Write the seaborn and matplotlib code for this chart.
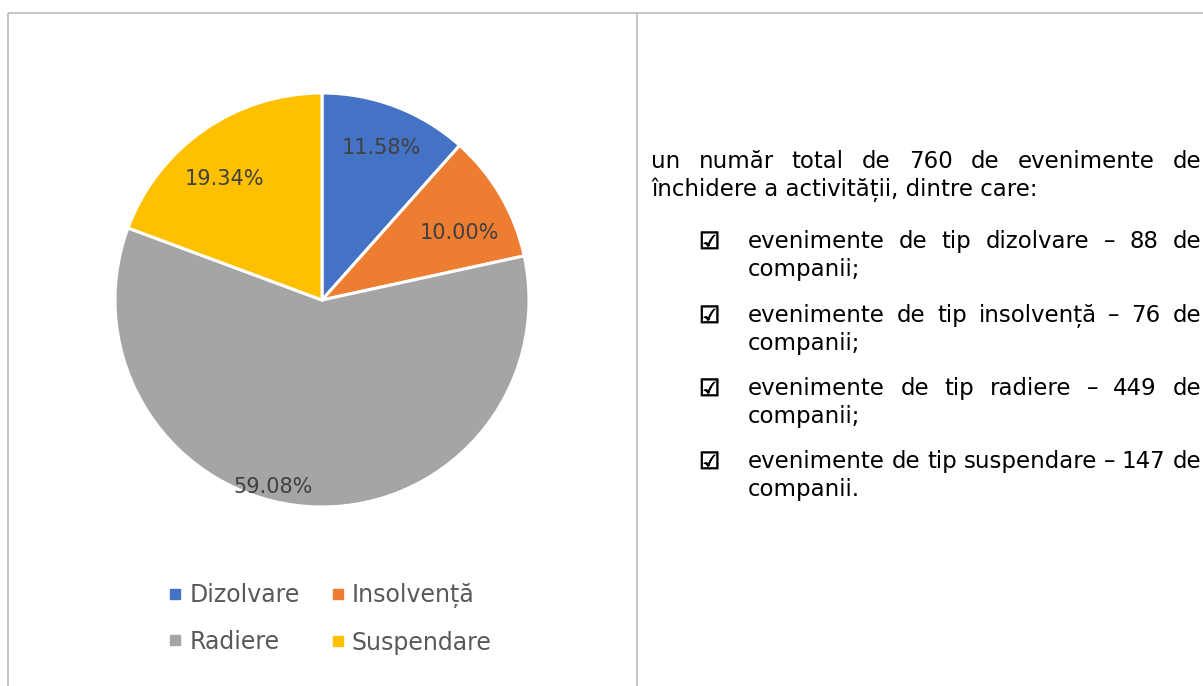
import numpy as np
import matplotlib
matplotlib.use("Agg")
import matplotlib.pyplot as plt
import matplotlib.patheffects as pe
import seaborn as sns
from matplotlib.lines import Line2D

# Closure events by type
categories = ["Dizolvare", "Insolvență", "Radiere", "Suspendare"]
type_words = ["dizolvare", "insolvență", "radiere", "suspendare"]
counts = [88, 76, 449, 147]
colors = ["#4472C4", "#ED7D31", "#A5A5A5", "#FFC000"]

sns.set_theme(style="white")
plt.rcParams["font.family"] = ["DejaVu Sans"]

W, H = 1203, 686
fig = plt.figure(figsize=(W / 100, H / 100), dpi=100, facecolor="white")

# Full-figure overlay in pixel units (y downward) for the frame and the text
bg = fig.add_axes([0, 0, 1, 1])
bg.set_xlim(0, W)
bg.set_ylim(H, 0)
bg.axis("off")
bg.patch.set_visible(False)

frame_kw = dict(color="#BFBFBF", lw=1.3, solid_capstyle="butt")
bg.plot([8, W], [13, 13], **frame_kw)
bg.plot([8, 8], [13, H], **frame_kw)
bg.plot([637, 637], [13, H], **frame_kw)

# Pie chart
cx, cy, R = 322, 300, 207
ax = fig.add_axes([(cx - R) / W, (H - cy - R) / H, 2 * R / W, 2 * R / H])
wedges, _ = ax.pie(counts, colors=colors, startangle=90, counterclock=False,
                   radius=1.0,
                   wedgeprops=dict(edgecolor="white", linewidth=2.2,
                                   clip_on=False))
ax.set_xlim(-1.0, 1.0)
ax.set_ylim(-1.0, 1.0)
ax.set_aspect("equal")
ax.axis("off")

total = sum(counts)
label_r = [0.787, 0.737, 0.934, 0.750]
label_shift = [-0.4, -4.2, -10.7, 3.9]
for w, n, r, d in zip(wedges, counts, label_r, label_shift):
    mid = np.deg2rad((w.theta1 + w.theta2) / 2 + d)
    ax.text(r * np.cos(mid), r * np.sin(mid), f"{100 * n / total:.2f}%",
            ha="center", va="center", fontsize=15, color="#404040")

# Legend, filled row by row (two entries per row)
handles = [Line2D([], [], marker="s", linestyle="", color=c, markersize=6.5)
           for c in colors]
order = [0, 2, 1, 3]
fig.legend([handles[i] for i in order], [categories[i] for i in order],
           ncol=2, loc="center",
           bbox_to_anchor=(330 / W, 1 - 619 / H), frameon=False,
           fontsize=17, labelcolor="#595959", handlelength=0.6,
           handletextpad=0.3, columnspacing=1.3, labelspacing=0.95)

# Right-hand paragraph with justified lines
renderer = fig.canvas.get_renderer()
txt_kw = dict(fontsize=16.5, color="black", va="baseline")


def put_line(x0, x1, y, line, justify):
    if not justify:
        bg.text(x0, y, line, ha="left", **txt_kw)
        return
    words = line.split(" ")
    texts = [bg.text(x0, y, wd, ha="left", **txt_kw) for wd in words]
    widths = [t.get_window_extent(renderer).width for t in texts]
    gap = (x1 - x0 - sum(widths)) / (len(words) - 1)
    x = x0
    for t, wdt in zip(texts, widths):
        t.set_x(x)
        x += wdt + gap


right_edge = 1201
para_lines = [f"un număr total de {total} de evenimente de",
              "închidere a activității, dintre care:"]
put_line(651, right_edge, 168, para_lines[0], True)
put_line(651, right_edge, 196, para_lines[1], False)

bullet_y = [248, 322, 395, 468]
ends = ["companii;", "companii;", "companii;", "companii."]
box_fx = [pe.withStroke(linewidth=0.6, foreground="black")]
for tw, n, y, end in zip(type_words, counts, bullet_y, ends):
    bg.text(699, y + 1, "\u2611", ha="left", fontsize=17, fontweight="bold",
            color="black", va="baseline", path_effects=box_fx)
    put_line(748, right_edge, y, f"evenimente de tip {tw} \u2013 {n} de", True)
    put_line(748, right_edge, y + 28, end, False)

fig.savefig("out.png", dpi=100, facecolor="white")
